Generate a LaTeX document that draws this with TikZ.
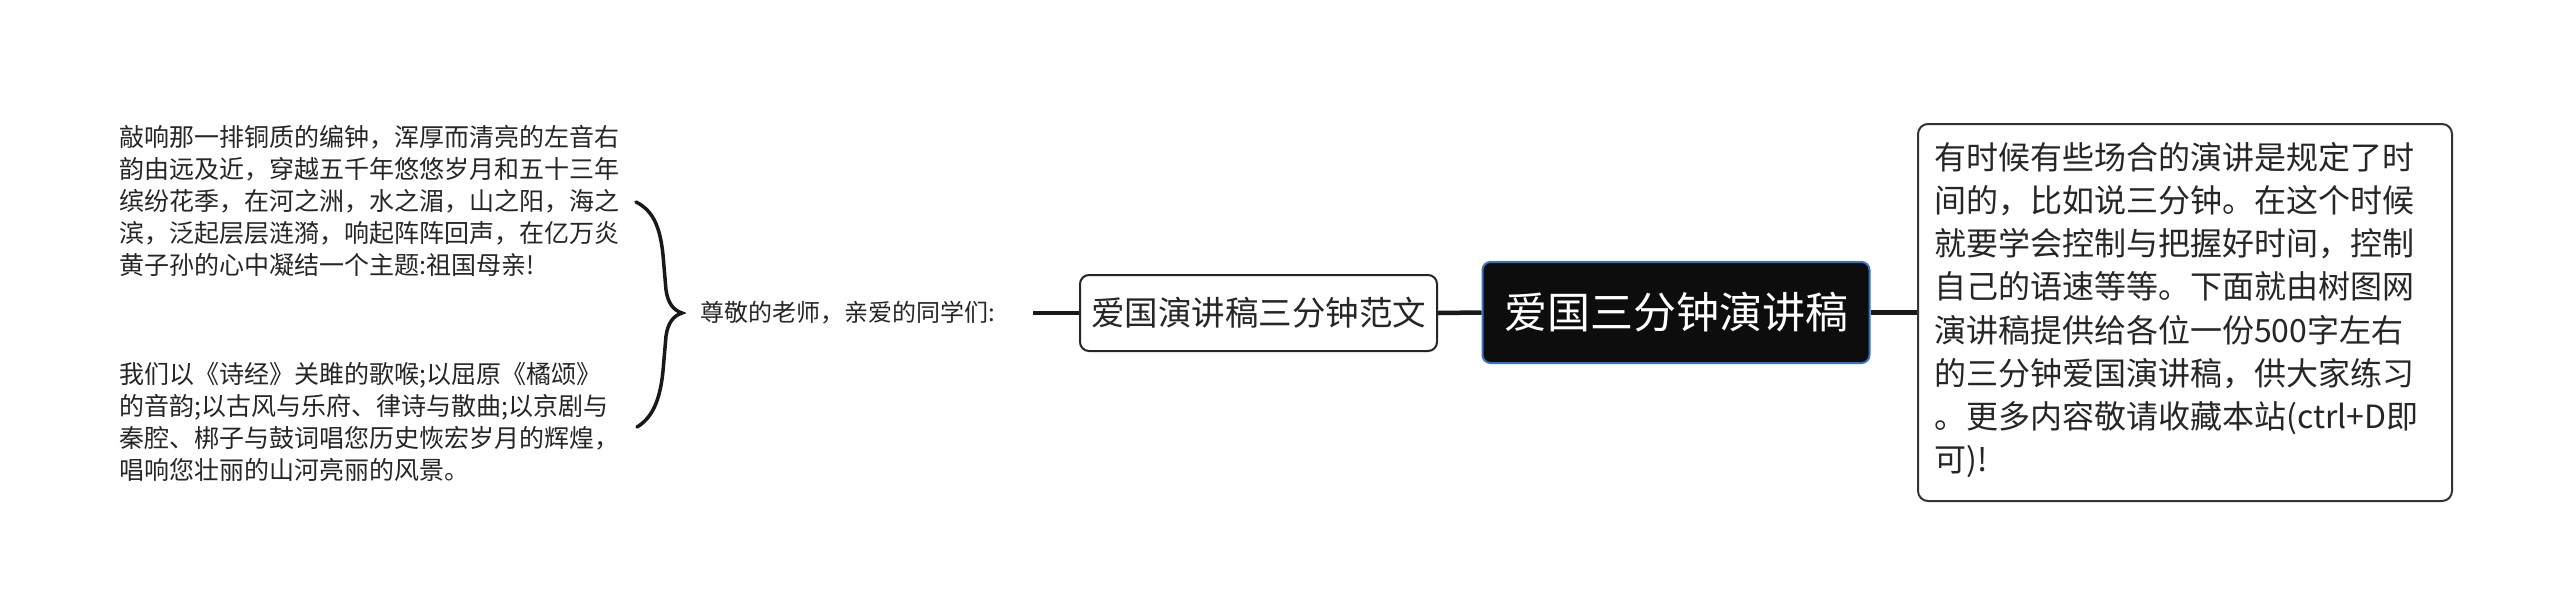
\documentclass[tikz,border=0pt]{standalone}
\usepackage{fontspec}
\setmainfont{Noto Sans CJK SC}
\begin{document}
\begin{tikzpicture}[x=1pt,y=-1pt,
  txt/.style={text=black!85, inner sep=0pt},
  rootbox/.style={draw=rootblue, line width=2pt, fill=rootfill, rounded corners=8pt,
    text=white, minimum width=387pt, minimum height=101pt, font=\fontsize{43}{52}\selectfont},
  subbox/.style={draw=black!85, line width=2pt, fill=white, rounded corners=9pt,
    minimum width=357pt, minimum height=76pt, text=black!85, font=\fontsize{33.5}{40}\selectfont},
  notebox/.style={draw=black!80, line width=2pt, fill=white, rounded corners=10pt,
    minimum width=534pt, minimum height=377pt},
  conn/.style={line width=4.5pt, black!90},
  bracestyle/.style={line width=3.5pt, black!90, line cap=round}
]
\definecolor{rootblue}{HTML}{3A6FC4}
\definecolor{rootfill}{HTML}{0D0D0D}
\useasboundingbox (0,0) rectangle (2560,611);
\fill[white] (0,0) rectangle (2560,611);

\node[rootbox] (root) at (1676,312.5) {爱国三分钟演讲稿};
\node[subbox] (sub) at (1258.5,313) {爱国演讲稿三分钟范文};
\node[notebox] (note) at (2185,312.5) {};
\node[txt, anchor=north west, align=left, font=\fontsize{32}{43.2}\selectfont] (notetext) at (1934,142)
  {有时候有些场合的演讲是规定了时\\间的，比如说三分钟。在这个时候\\就要学会控制与把握好时间，控制\\自己的语速等等。下面就由树图网\\演讲稿提供给各位一份500字左右\\的三分钟爱国演讲稿，供大家练习\\。更多内容敬请收藏本站(ctrl+D即\\可)!};

\node[txt, font=\fontsize{24}{29}\selectfont] (label) at (848,313) {尊敬的老师，亲爱的同学们:};
\coordinate (labelend) at (1033,313);

\node[txt, anchor=north west, align=left, font=\fontsize{25}{31.9}\selectfont] (p1) at (119,125)
  {敲响那一排铜质的编钟，浑厚而清亮的左音右\\韵由远及近，穿越五千年悠悠岁月和五十三年\\缤纷花季，在河之洲，水之湄，山之阳，海之\\滨，泛起层层涟漪，响起阵阵回声，在亿万炎\\黄子孙的心中凝结一个主题:祖国母亲!};
\node[txt, anchor=north west, align=left, font=\fontsize{25}{31.9}\selectfont] (p2) at (119,362)
  {我们以《诗经》关雎的歌喉;以屈原《橘颂》\\的音韵;以古风与乐府、律诗与散曲;以京剧与\\秦腔、梆子与鼓词唱您历史恢宏岁月的辉煌，\\唱响您壮丽的山河亮丽的风景。};

\coordinate (btop) at (636,202);
\coordinate (btip) at (682,313);
\coordinate (bbot) at (637,427);
\draw[bracestyle] (btop) .. controls (652,210) and (660,225) .. (663,255)
  -- (666,290) .. controls (668,303) and (673,310) .. (btip)
  .. controls (673,316) and (668,323) .. (666,336)
  -- (663,371) .. controls (660,401) and (652,418) .. (bbot);

\draw[conn] (root.east) -- (note.west);
\draw[conn] (sub.east) -- (root.west);
\draw[conn] (labelend) -- (sub.west);
\end{tikzpicture}
\end{document}
